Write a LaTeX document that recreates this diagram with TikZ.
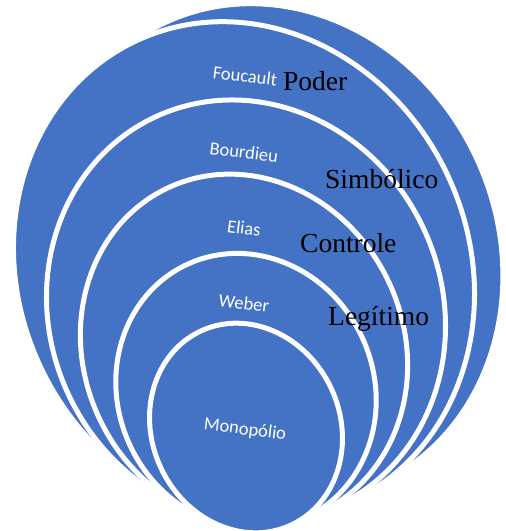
\documentclass[tikz,border=0pt]{standalone}
\usepackage{fontspec}
\setmainfont{Liberation Serif}
\newfontfamily\labelfont{Carlito}
\definecolor{ringblue}{HTML}{4472C4}
% one ring: centre x, centre y (y grows downwards), half width, half height;
% every ring leans the same way
\newcommand\ringshape[4]{%
  \path[ring, shift={(#1,#2)}, rotate=25] (0,0) ellipse [x radius=#3pt, y radius=#4pt];}
\begin{document}
\begin{tikzpicture}[x=1pt,y=-1pt,
  ring/.style={fill=ringblue, draw=white, line width=5pt},
  author/.style={font=\labelfont\fontsize{18.5}{20}\selectfont, text=white,
                 rotate=-7, inner sep=0pt, anchor=center},
  concept/.style={font=\fontsize{27.5}{30}\selectfont, text=black,
                  inner sep=0pt, anchor=base west}]
\useasboundingbox (0,0) rectangle (506,531);

% nested rings, outermost first
\ringshape{272.4}{252.9}{225}{254.1} % crescent behind Foucault
\ringshape{244}{270.9}{225}{254.1}   % Foucault
\ringshape{246}{311.5}{196}{214.7}   % Bourdieu
\ringshape{244}{350.1}{160}{179.2}   % Elias
\ringshape{246}{391.2}{128}{139.8}   % Weber
\ringshape{246}{428}{94}{107}        % Monopolio

% author names inside the rings
\node[author] (foucault)  at (245,76)  {Foucault};
\node[author] (bourdieu)  at (244,152) {Bourdieu};
\node[author] (elias)     at (244,228) {Elias};
\node[author] (weber)     at (244,303) {Weber};
\node[author] (monopolio) at (245,430) {Monopólio};

% kinds of power
\node[concept] (poder)     at (283,90)  {Poder};
\node[concept] (simbolico) at (325,188) {Simbólico};
\node[concept] (controle)  at (300,252) {Controle};
\node[concept] (legitimo)  at (328,325) {Legítimo};
\end{tikzpicture}
\end{document}
